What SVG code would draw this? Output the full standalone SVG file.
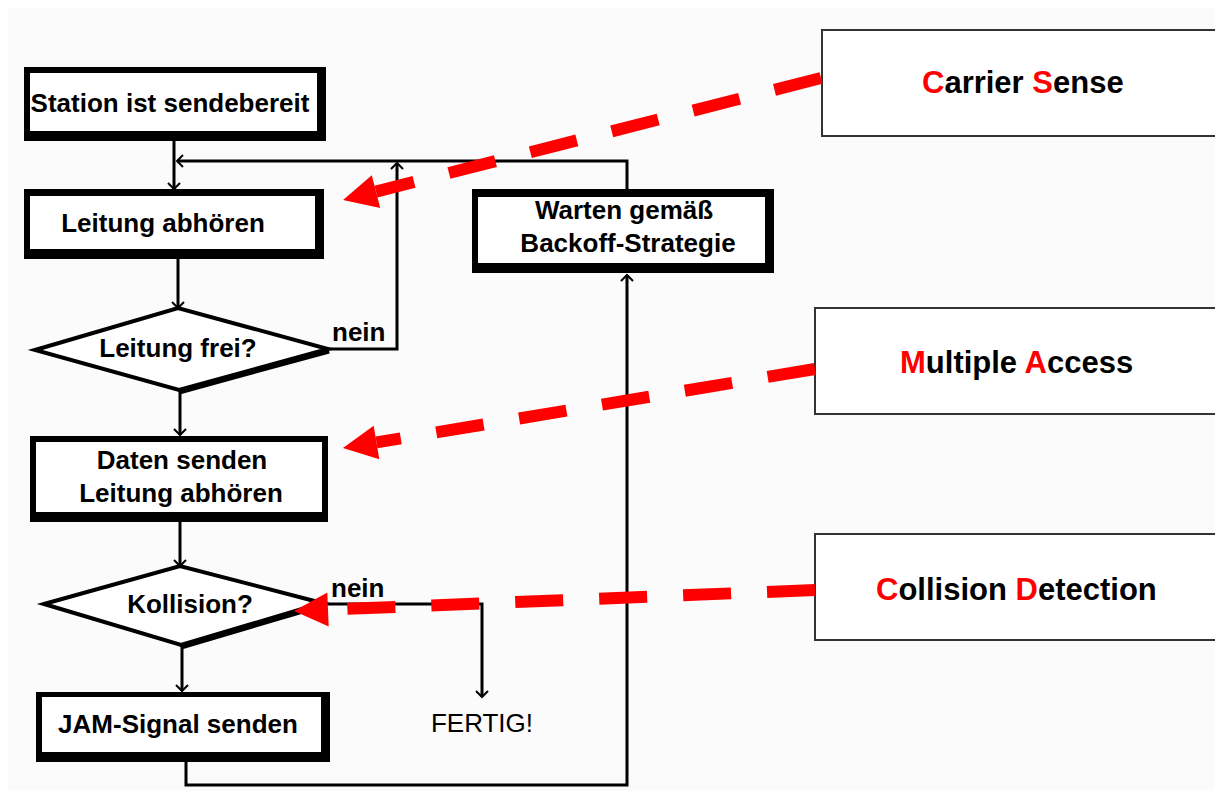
<svg xmlns="http://www.w3.org/2000/svg" width="1215" height="791" viewBox="0 0 1215 791">
<style>
.bo{fill:#000}
.bi{fill:#fff}
.t{font-family:"Liberation Sans",Arial,sans-serif;font-weight:bold;font-size:26px;fill:#000;text-anchor:middle}
.lbl{font-family:"Liberation Sans",Arial,sans-serif;font-weight:bold;font-size:26px;fill:#000}
.fin{font-family:"Liberation Sans",Arial,sans-serif;font-weight:normal;font-size:26px;fill:#000;text-anchor:middle}
.rt{font-family:"Liberation Sans",Arial,sans-serif;font-weight:bold;font-size:31px;fill:#000}
.red{fill:#ff0000}
.dia{fill:#fff;stroke:#000;stroke-width:4;stroke-linejoin:miter}
.sh{stroke:#000;stroke-width:5;fill:none}
.rbox{fill:#fff;stroke:#333;stroke-width:2}
.c{fill:none;stroke:#000;stroke-width:3;marker-end:url(#ah)}
.rd{fill:none;stroke:#ff0000;stroke-width:12;stroke-dasharray:48 36;marker-end:url(#rh)}
</style>
<defs>
<marker id="ah" markerUnits="userSpaceOnUse" markerWidth="14" markerHeight="14" refX="9" refY="6" orient="auto" overflow="visible">
<path d="M3,0 L9,6 L3,12" fill="none" stroke="#000" stroke-width="2"/>
</marker>
<marker id="rh" markerUnits="userSpaceOnUse" markerWidth="36" markerHeight="34" refX="0" refY="17" orient="auto" overflow="visible">
<path d="M0,0 L34,17 L0,34 z" fill="#ff0000"/>
</marker>
</defs>
<rect x="0" y="0" width="1215" height="791" fill="#ffffff"/>
<rect x="8" y="8" width="1207" height="783" fill="#fbfbfb"/>

<g id="connectors">
<path class="c" d="M174,141 V189"/>
<path class="c" d="M627,189 V161 H177"/>
<path class="c" d="M178,259 V308"/>
<path class="c" d="M328,349 H397 V163"/>
<path class="c" d="M180,390 V435"/>
<path class="c" d="M180,522 V566"/>
<path class="c" d="M322,604 H482 V697"/>
<path class="c" d="M182,645 V691"/>
<path class="c" d="M186,762 V785 H627 V275"/>
</g>

<g id="station">
<rect class="bo" x="24" y="67" width="302" height="74"/>
<rect class="bi" x="30" y="73" width="287" height="58"/>
<text class="t" x="170" y="112">Station ist sendebereit</text>
</g>

<g id="abhoeren">
<rect class="bo" x="24" y="189" width="300" height="70"/>
<rect class="bi" x="30" y="196" width="285" height="53"/>
<text class="t" x="163" y="232">Leitung abhören</text>
</g>

<g id="frei">
<polygon class="dia" points="35,350 178,308 328,349 179,390"/>
<line class="sh" x1="179" y1="392" x2="329" y2="351"/>
<text class="t" x="178" y="357">Leitung frei?</text>
<text class="lbl" x="332" y="341">nein</text>
</g>

<g id="senden">
<rect class="bo" x="30" y="436" width="298" height="86"/>
<rect class="bi" x="36" y="442" width="286" height="70"/>
<text class="t" x="182" y="469">Daten senden</text>
<text class="t" x="181" y="502">Leitung abhören</text>
</g>

<g id="kollision">
<polygon class="dia" points="44,604 180,566 322,603 181,645"/>
<line class="sh" x1="181" y1="647" x2="323" y2="605"/>
<text class="t" x="190" y="613">Kollision?</text>
<text class="lbl" x="331" y="597">nein</text>
</g>

<g id="jam">
<rect class="bo" x="36" y="692" width="294" height="70"/>
<rect class="bi" x="42" y="697" width="279" height="55"/>
<text class="t" x="178" y="733">JAM-Signal senden</text>
</g>

<g id="warten">
<rect class="bo" x="472" y="189" width="302" height="84"/>
<rect class="bi" x="478" y="197" width="287" height="66"/>
<text class="t" x="624" y="219">Warten gemäß</text>
<text class="t" x="628" y="252">Backoff-Strategie</text>
</g>

<g id="fertig">
<text class="fin" x="482" y="732">FERTIG!</text>
</g>

<g id="cs">
<rect class="rbox" x="822" y="30" width="400" height="106"/>
<text class="rt" x="922" y="93"><tspan class="red">C</tspan>arrier <tspan class="red">S</tspan>ense</text>
</g>

<g id="ma">
<rect class="rbox" x="815" y="308" width="410" height="106"/>
<text class="rt" x="900" y="373"><tspan class="red">M</tspan>ultiple <tspan class="red">A</tspan>ccess</text>
</g>

<g id="cd">
<rect class="rbox" x="815" y="534" width="410" height="106"/>
<text class="rt" x="876" y="600"><tspan class="red">C</tspan>ollision <tspan class="red">D</tspan>etection</text>
</g>

<g id="red-connectors">
<path class="rd" d="M821,78 L376,191.6"/>
<path class="rd" d="M815,369 L376.5,442.4"/>
<path class="rd" d="M815,590 L328,609.6"/>
</g>
</svg>
